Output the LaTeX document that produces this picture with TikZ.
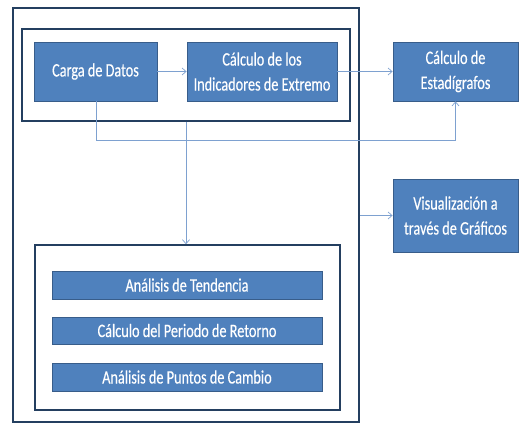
\documentclass[tikz,border=0pt]{standalone}
\usepackage{fontspec}
\setmainfont{Carlito}[FakeStretch=0.75,FakeBold=0.3]
\usetikzlibrary{arrows.meta,shadows}
\definecolor{boxfill}{HTML}{4F81BD}
\definecolor{boxline}{HTML}{385D8A}
\definecolor{frameline}{HTML}{243F60}
\definecolor{conn}{HTML}{7EA1D0}
\tikzset{
  blue box/.style={draw=boxline, line width=0.8pt, fill=boxfill, text=white, align=center,
    inner sep=0pt, font=\fontsize{19}{25}\selectfont,
    drop shadow={shadow xshift=1.2pt, shadow yshift=-1.2pt, opacity=0.45}},
  frame box/.style={draw=frameline, line width=1.5pt, inner sep=0pt},
  link/.style={draw=conn, line width=0.7pt, -{Straight Barb[length=4pt,width=7pt]}},
  plain link/.style={draw=conn, line width=0.7pt}
}
\begin{document}
\begin{tikzpicture}[x=1pt,y=-1pt]
\useasboundingbox[fill=white] (0,0) rectangle (528,430);
% frames
\node[frame box, minimum width=346pt, minimum height=414pt] (outer) at (186,215) {};
\node[frame box, minimum width=328pt, minimum height=92pt] (innertop) at (186,75) {};
\node[frame box, minimum width=305pt, minimum height=165pt] (bottom) at (187.5,327.5) {};
% boxes
\node[blue box, minimum width=123pt, minimum height=59pt] (carga) at (95.5,71.5) {Carga de Datos};
\node[blue box, minimum width=150pt, minimum height=59pt] (calc) at (262,71.5) {Cálculo de los\\Indicadores de Extremo};
\node[blue box, minimum width=125pt, minimum height=59pt] (estad) at (455.5,71.5) {Cálculo de\\Estadígrafos};
\node[blue box, minimum width=125pt, minimum height=73pt] (visual) at (455.5,215.5) {Visualización a\\través de Gráficos};
\node[blue box, minimum width=270pt, minimum height=28pt] (bar1) at (187,285) {Análisis de Tendencia};
\node[blue box, minimum width=270pt, minimum height=27pt] (bar2) at (187,330.5) {Cálculo del Periodo de Retorno};
\node[blue box, minimum width=270pt, minimum height=28pt] (bar3) at (187,377) {Análisis de Puntos de Cambio};
% connectors
\coordinate (turnA) at (96,140);
\draw[link] (carga.east) -- (calc.west);
\draw[link] (calc.east) -- (estad.west);
\draw[link] (carga.south -| turnA) -- (turnA) -| (estad.south);
\draw[link] (innertop.south) -- (innertop.south |- bottom.north);
\draw[link] (outer.east |- visual.west) -- (visual.west);
\end{tikzpicture}
\end{document}
